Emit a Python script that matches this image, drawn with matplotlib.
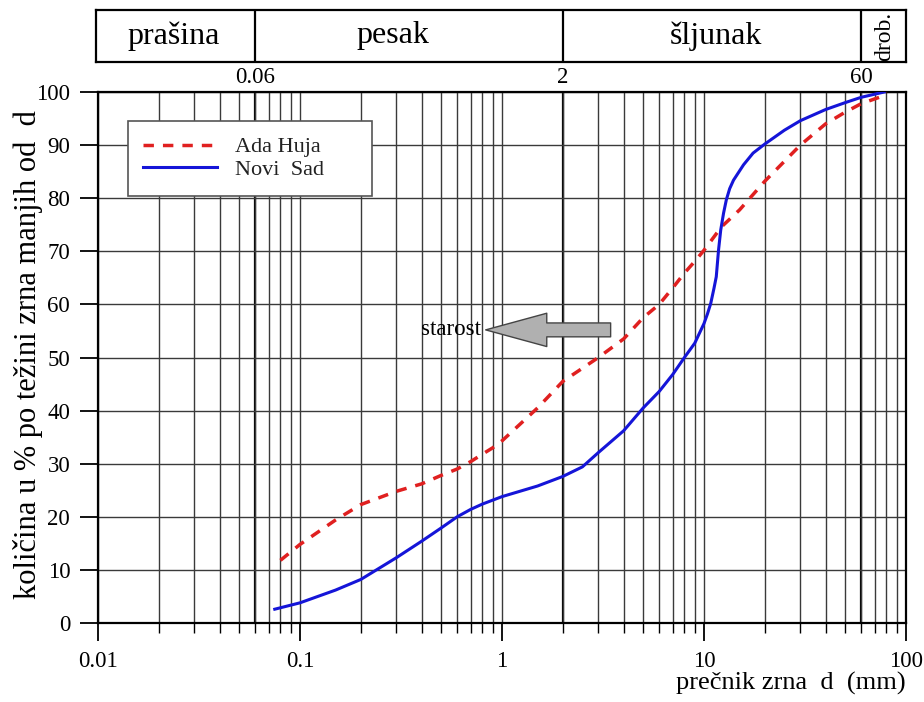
import matplotlib
matplotlib.use('Agg')
import matplotlib.pyplot as plt
import matplotlib.ticker as mticker
import matplotlib.transforms as mtransforms

plt.rcParams['font.family'] = ['Liberation Serif', 'DejaVu Serif']

# granulometrijske krive (d u mm, procenat prolaza)
novi_sad_d = [0.075, 0.1, 0.15, 0.2, 0.3, 0.4, 0.5, 0.6, 0.7, 0.8, 1.0, 1.5, 2.0, 2.5, 3.0,
              4.0, 5.0, 6.0, 7.0, 8.0, 9.0, 10.0, 10.4, 10.8, 11.2, 11.5, 11.8, 12.1, 12.5,
              12.9, 13.4, 14.0, 15.7, 17.5, 20.0, 25.0, 30.0, 40.0, 50.0, 60.0, 78.0]
novi_sad_p = [2.6, 3.8, 6.2, 8.2, 12.3, 15.4, 17.9, 20.0, 21.4, 22.4, 23.8, 25.8, 27.6, 29.4, 32.1,
              36.2, 40.5, 43.6, 46.8, 50.0, 52.7, 56.4, 58.2, 60.2, 63.0, 65.2, 70.2, 74.0, 77.2,
              79.7, 81.8, 83.4, 86.3, 88.5, 90.2, 92.8, 94.6, 96.7, 98.0, 99.0, 100.0]

ada_huja_d = [0.08, 0.1, 0.15, 0.2, 0.3, 0.4, 0.5, 0.6, 0.7, 0.8, 0.9, 1.0, 1.5, 2.0,
              3.0, 4.0, 5.0, 6.0, 7.0, 8.0, 9.0, 10.0, 12.2, 15.0, 20.0, 30.0, 40.0, 50.0,
              60.0, 75.0, 80.0]
ada_huja_p = [11.8, 14.8, 19.4, 22.3, 24.8, 26.2, 27.8, 29.0, 30.4, 31.8, 33.0, 34.3, 40.5, 45.5,
              50.0, 53.5, 57.5, 60.0, 63.1, 65.9, 68.1, 70.2, 74.6, 77.8, 83.2, 90.0, 94.0, 96.2,
              97.8, 99.1, 100.0]

x_ticks = [0.01, 0.1, 1, 10, 100]
x_tick_labels = ['0.01', '0.1', '1', '10', '100']
granice = [0.06, 2, 60]
granice_labels = ['0.06', '2', '60']
frakcije = ['prašina', 'pesak', 'šljunak']

fig = plt.figure(figsize=(9.24, 7.02), dpi=100)
ax = fig.add_axes([98 / 924, 79 / 702, 808 / 924, 531 / 702])
ax.set_xscale('log')
ax.set_xlim(0.01, 100)
ax.set_ylim(0, 100)

ax.xaxis.set_major_locator(mticker.FixedLocator(x_ticks))
ax.xaxis.set_major_formatter(mticker.FixedFormatter(x_tick_labels))
ax.xaxis.set_minor_locator(mticker.LogLocator(base=10, subs=range(2, 10), numticks=20))
ax.xaxis.set_minor_formatter(mticker.NullFormatter())
ax.yaxis.set_major_locator(mticker.MultipleLocator(10))

ax.grid(which='both', axis='x', color='#3a3a3a', lw=1.0)
ax.grid(which='major', axis='y', color='#3a3a3a', lw=1.0)
for g in granice:
    ax.axvline(g, color='black', lw=1.6, zorder=1.5)

ax.tick_params(axis='both', which='major', direction='out', length=13, width=1.3,
               labelsize=16.5, pad=7)
ax.tick_params(axis='x', which='minor', direction='out', length=7, width=1.0)
for s in ax.spines.values():
    s.set_linewidth(1.6)

ax.plot(ada_huja_d, ada_huja_p, color='#e02020', lw=2.5, dashes=(3, 2.6), label='Ada Huja', zorder=3)
ax.plot(novi_sad_d, novi_sad_p, color='#1515d8', lw=2.2, label='Novi  Sad', zorder=3)

ax.set_xlabel('prečnik zrna  d  (mm)', fontsize=19, loc='right', labelpad=0)
ax.set_ylabel('količina u % po težini zrna manjih od  d', fontsize=22)
ax.yaxis.set_label_coords(-0.068, 0.505)

leg = ax.legend(loc='upper left', bbox_to_anchor=(0.037, 0.812, 0.302, 0.133), mode='expand',
                fontsize=16, frameon=True, fancybox=False, handlelength=3.3, borderpad=0.7,
                labelspacing=0.1, handletextpad=0.8, borderaxespad=0)
leg.get_frame().set_edgecolor('#555555')
leg.get_frame().set_linewidth(1.2)
leg.get_frame().set_alpha(1)
for t in leg.get_texts():
    t.set_color('#222222')

# strelica "starost"
ax.annotate('', xy=(0.83, 55.2), xytext=(3.45, 55.2),
            arrowprops=dict(arrowstyle='simple,head_length=4.4,head_width=2.4,tail_width=1.0',
                            fc='#b0b0b0', ec='#444444', lw=1.0, shrinkA=0, shrinkB=0),
            zorder=4)
ax.text(0.79, 55.2, 'starost', fontsize=16.5, ha='right', va='center', zorder=4)

# granice frakcija iznad dijagrama
trans = mtransforms.blended_transform_factory(ax.transData, ax.transAxes)
for g, lab in zip(granice, granice_labels):
    ax.text(g, 1.008, lab, transform=trans, fontsize=16.5, ha='center', va='bottom')

top = fig.add_axes([96 / 924, 640 / 702, 810 / 924, 52 / 702])
top.set_xscale('log')
top.set_xlim(0.0098, 100)
top.set_ylim(0, 1)
top.set_xticks([])
top.set_yticks([])
top.xaxis.set_minor_locator(mticker.NullLocator())
for s in top.spines.values():
    s.set_linewidth(1.6)
for g in granice:
    top.axvline(g, color='black', lw=1.6)
for xf, lab in zip([0.0965, 0.366, 0.765], frakcije):
    top.text(xf, 0.5, lab, transform=top.transAxes, fontsize=23, ha='center', va='center')
top.text(0.9735, 0.5, 'drob.', transform=top.transAxes, fontsize=17, rotation=90,
         ha='center', va='center')

fig.savefig('out.png', dpi=100)
